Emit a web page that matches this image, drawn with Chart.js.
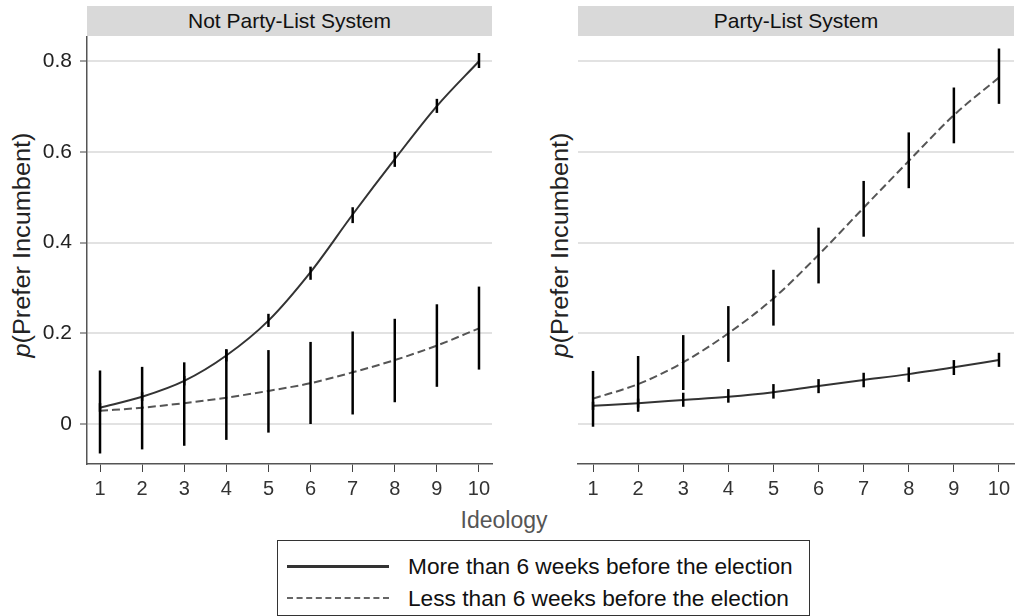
<!DOCTYPE html>
<html>
<head>
<meta charset="utf-8">
<script src="https://cdn.jsdelivr.net/npm/chart.js@4.4.1/dist/chart.umd.min.js"></script>
<style>
  body { margin: 0; width: 1017px; height: 616px; background: #fff; position: relative; overflow: hidden;
         font-family: "Liberation Sans", Arial, sans-serif; }
  canvas { position: absolute; }
  .strip { position: absolute; top: 6px; height: 30px; line-height: 30px; background: #d9d9d9;
           color: #111; font-size: 21px; text-align: center; }
  .ytitle { position: absolute; width: 280px; height: 28px; line-height: 28px; text-align: center;
            font-size: 23px; color: #222; white-space: nowrap; transform: rotate(-90deg) scaleX(1.1); }
  .xtitle { position: absolute; left: 404px; width: 200px; top: 507px; text-align: center;
            font-size: 23px; color: #555; }
  .legend { position: absolute; left: 277px; top: 540px; width: 533px; height: 76px;
            border: 1.5px solid #333; box-sizing: border-box; }
  .legend .row { position: absolute; left: 0; height: 30px; line-height: 30px; font-size: 22.7px; color: #111; }
  .legend .sample { position: absolute; left: 9px; width: 102px; top: 14px; }
  .legend .txt { position: absolute; left: 130px; white-space: nowrap; }
</style>
</head>
<body>

<div class="strip" style="left:87px; width:405px;">Not Party-List System</div>
<div class="strip" style="left:578px; width:436px;">Party-List System</div>

<div class="ytitle" style="left:-118px; top:231px;"><i>p</i>(Prefer Incumbent)</div>
<div class="ytitle" style="left:420px; top:231px;"><i>p</i>(Prefer Incumbent)</div>

<canvas id="chart-not-pl" width="500" height="474" style="left:0; top:30px;"></canvas>
<canvas id="chart-pl" width="457" height="474" style="left:560px; top:30px;"></canvas>

<div class="xtitle">Ideology</div>

<div class="legend">
  <div class="row" style="top:10px;">
    <div class="sample" style="border-top:3.5px solid #333;"></div>
    <span class="txt">More than 6 weeks before the election</span>
  </div>
  <div class="row" style="top:42px;">
    <div class="sample" style="border-top:2.5px dashed #666;"></div>
    <span class="txt">Less than 6 weeks before the election</span>
  </div>
</div>

<script>
const ideology = [1, 2, 3, 4, 5, 6, 7, 8, 9, 10];
const yTicks = [0, 0.2, 0.4, 0.6, 0.8];

// Not Party-List System
const notPlMore   = [0.036, 0.060, 0.095, 0.151, 0.228, 0.335, 0.462, 0.584, 0.701, 0.800];
const notPlMoreLo = [0.027, 0.051, 0.085, 0.138, 0.214, 0.318, 0.443, 0.567, 0.686, 0.785];
const notPlMoreHi = [0.046, 0.070, 0.106, 0.164, 0.243, 0.347, 0.478, 0.600, 0.717, 0.818];
const notPlLess   = [0.029, 0.036, 0.046, 0.058, 0.073, 0.090, 0.114, 0.141, 0.173, 0.211];
const notPlLessLo = [-0.065, -0.056, -0.048, -0.035, -0.019, 0.000, 0.021, 0.048, 0.082, 0.120];
const notPlLessHi = [0.118, 0.126, 0.136, 0.165, 0.163, 0.181, 0.204, 0.232, 0.264, 0.303];

// Party-List System
const plMore   = [0.040, 0.046, 0.053, 0.060, 0.070, 0.084, 0.097, 0.110, 0.125, 0.141];
const plMoreLo = [0.031, 0.036, 0.038, 0.047, 0.056, 0.068, 0.081, 0.093, 0.108, 0.126];
const plMoreHi = [0.049, 0.056, 0.069, 0.077, 0.088, 0.099, 0.113, 0.125, 0.141, 0.157];
const plLess   = [0.056, 0.088, 0.136, 0.200, 0.277, 0.373, 0.477, 0.580, 0.681, 0.764];
const plLessLo = [-0.006, 0.027, 0.075, 0.137, 0.217, 0.310, 0.413, 0.520, 0.619, 0.706];
const plLessHi = [0.117, 0.150, 0.196, 0.260, 0.340, 0.433, 0.536, 0.643, 0.742, 0.828];

// vertical CI bars, drawn on top of the lines
const errorBars = {
  id: 'errorBars',
  afterDatasetsDraw(chart) {
    const { ctx, scales: { x, y } } = chart;
    ctx.save();
    ctx.strokeStyle = '#000';
    ctx.lineWidth = 2.5;
    chart.data.datasets.forEach(ds => {
      ds.data.forEach((p, i) => {
        const px = x.getPixelForValue(p.x);
        ctx.beginPath();
        ctx.moveTo(px, y.getPixelForValue(ds.lo[i]));
        ctx.lineTo(px, y.getPixelForValue(ds.hi[i]));
        ctx.stroke();
      });
    });
    ctx.restore();
  }
};

function series(vals, lo, hi, dashed) {
  return {
    data: ideology.map((x, i) => ({ x: x, y: vals[i] })),
    lo: lo,
    hi: hi,
    borderColor: dashed ? '#555' : '#333',
    borderWidth: 2,
    borderDash: dashed ? [8, 4] : [],
    pointRadius: 0,
    tension: 0.4,
    cubicInterpolationMode: 'monotone',
    fill: false,
  };
}

function makeChart(id, more, less, opts) {
  return new Chart(document.getElementById(id), {
    type: 'line',
    data: { datasets: [series(less[0], less[1], less[2], true), series(more[0], more[1], more[2], false)] },
    plugins: [errorBars],
    options: {
      responsive: false,
      animation: false,
      layout: { padding: { top: 7, right: opts.padRight, left: 0, bottom: 0 } },
      plugins: { legend: { display: false }, tooltip: { enabled: false } },
      scales: {
        x: {
          type: 'linear',
          min: opts.xMin,
          max: opts.xMax,
          afterBuildTicks: s => { s.ticks = ideology.map(v => ({ value: v })); },
          afterFit: s => { s.height = 40; s.paddingLeft = 0; s.paddingRight = 0; },
          grid: { drawOnChartArea: false, drawTicks: true, tickLength: 8, tickColor: '#444', tickWidth: 1 },
          border: { display: true, color: '#555', width: 1.5 },
          ticks: { font: { family: 'Liberation Sans', size: 20 }, color: '#333', padding: 5, maxRotation: 0 },
        },
        y: {
          min: -0.0882,
          max: 0.8534,
          afterBuildTicks: s => { s.ticks = yTicks.map(v => ({ value: v })); },
          afterFit: s => { s.width = opts.yWidth; s.paddingTop = 0; s.paddingBottom = 0; },
          grid: { color: '#e2e2e2', lineWidth: 2, drawTicks: opts.showY, tickLength: 7, tickColor: '#444', tickWidth: 1 },
          border: { display: opts.showY, color: '#555', width: 1.5 },
          ticks: {
            display: opts.showY,
            font: { family: 'Liberation Sans', size: 21 },
            color: '#222',
            padding: 8,
            callback: v => (v === 0 ? '0' : v.toFixed(1)),
          },
        },
      },
    },
  });
}

makeChart('chart-not-pl', [notPlMore, notPlMoreLo, notPlMoreHi], [notPlLess, notPlLessLo, notPlLessHi],
  { xMin: 0.691, xMax: 10.309, padRight: 8, yWidth: 87, showY: true });
makeChart('chart-pl', [plMore, plMoreLo, plMoreHi], [plLess, plLessLo, plLessHi],
  { xMin: 0.667, xMax: 10.333, padRight: 3, yWidth: 18, showY: false });
</script>
</body>
</html>
